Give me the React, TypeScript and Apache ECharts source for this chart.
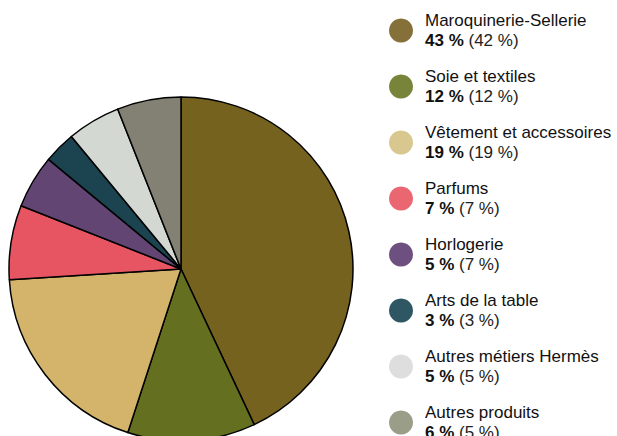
import React, { useEffect, useRef } from "react";
import * as echarts from "echarts";

const categories = [
  "Maroquinerie-Sellerie",
  "Soie et textiles",
  "Vêtement et accessoires",
  "Parfums",
  "Horlogerie",
  "Arts de la table",
  "Autres métiers Hermès",
  "Autres produits",
];
const currentShare = [43, 12, 19, 7, 5, 3, 5, 6];
const previousShare = [42, 12, 19, 7, 7, 3, 5, 5];
const sliceColors = ["#75621f", "#656f20", "#d3b46a", "#e85562", "#634573", "#1b4450", "#d3d8d3", "#838173"];
const iconColors = ["#86703a", "#77843a", "#d9c790", "#ea6670", "#6d4f80", "#2f5663", "#dedede", "#9a9d88"];

export default function App() {
  const ref = useRef<HTMLDivElement>(null);
  useEffect(() => {
    if (!ref.current) return;
    const chart = echarts.init(ref.current, null, { renderer: "svg" });
    const font = "'Liberation Sans', Arial, Helvetica, sans-serif";
    chart.setOption({
      animation: false,
      legend: {
        orient: "vertical",
        left: 384,
        top: 7,
        height: 600,
        itemWidth: 24,
        itemHeight: 24,
        itemGap: 19,
        icon: "circle",
        selectedMode: false,
        data: categories.map((c, i) => ({
          name: c,
          itemStyle: { color: iconColors[i], borderWidth: 0 },
        })),
        formatter: (name: string) => {
          const i = categories.indexOf(name);
          return `{n|${name}}\n{b|${currentShare[i]} %} {r|(${previousShare[i]} %)}`;
        },
        textStyle: {
          fontFamily: font,
          fontSize: 17,
          color: "#111",
          padding: [0, 0, 0, 7],
          rich: {
            n: { fontFamily: font, fontSize: 17, color: "#111", lineHeight: 20 },
            b: { fontFamily: font, fontSize: 17, color: "#111", fontWeight: "bold", lineHeight: 20 },
            r: { fontFamily: font, fontSize: 17, color: "#222", lineHeight: 20 },
          },
        },
      },
      series: [
        {
          type: "pie",
          center: [181, 269],
          radius: 172,
          startAngle: 90,
          clockwise: true,
          label: { show: false },
          labelLine: { show: false },
          emphasis: { disabled: true },
          itemStyle: { borderColor: "#000", borderWidth: 1.5 },
          data: categories.map((c, i) => ({
            name: c,
            value: currentShare[i],
            itemStyle: { color: sliceColors[i] },
          })),
        },
      ],
    });
    return () => chart.dispose();
  }, []);
  return <div ref={ref} style={{ width: 617, height: 436, position: "absolute", left: 0, top: 0 }} />;
}
